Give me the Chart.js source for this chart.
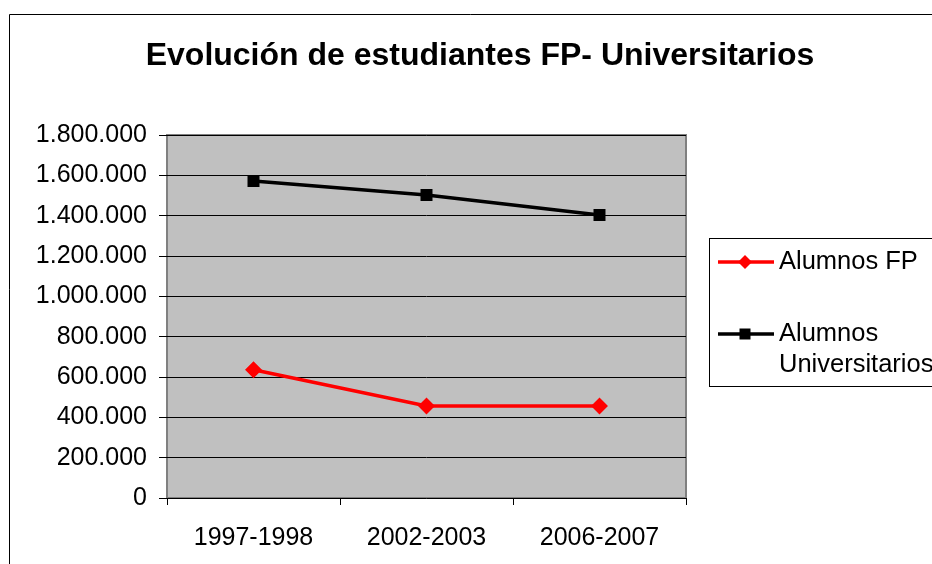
<!DOCTYPE html>
<html>
<head>
<meta charset="utf-8">
<script src="https://cdn.jsdelivr.net/npm/chart.js@4"></script>
<style>
  html, body { margin: 0; padding: 0; background: #fff; }
  #wrap { width: 932px; height: 564px; position: relative; }
</style>
</head>
<body>
<div id="wrap"><canvas id="myChart" width="932" height="564"></canvas></div>
<script>
const categories = ['1997-1998', '2002-2003', '2006-2007']
const alumnosFP = [636000, 456000, 456000]
const alumnosUni = [1572000, 1502000, 1403000]
const seriesNames = ['Alumnos FP', ['Alumnos', 'Universitarios']]
const titleText = 'Evolución de estudiantes FP- Universitarios'

const FONT = '"Liberation Sans", Arial, sans-serif'

function fmt(v) {
    return String(v).replace(/\B(?=(\d{3})+(?!\d))/g, '.')
}

// gray plot background, outer frame, title and the boxed legend
const frame = {
    id: 'frame',
    beforeDraw(chart) {
        const c = chart.ctx
        const a = chart.chartArea
        c.save()
        c.fillStyle = '#fff'
        c.fillRect(0, 0, chart.width, chart.height)
        c.strokeStyle = '#000'
        c.lineWidth = 1
        c.beginPath()
        c.moveTo(9.5, chart.height)
        c.lineTo(9.5, 14.5)
        c.lineTo(chart.width, 14.5)
        c.stroke()
        c.fillStyle = '#C0C0C0'
        c.fillRect(a.left, a.top, a.right - a.left, a.bottom - a.top)
        c.strokeStyle = '#808080'
        c.lineWidth = 2
        c.strokeRect(a.left, a.top, a.right - a.left, a.bottom - a.top)
        c.restore()
    },
    afterDraw(chart) {
        const c = chart.ctx
        c.save()
        c.fillStyle = '#000'
        c.font = 'bold 32px ' + FONT
        c.textAlign = 'center'
        c.textBaseline = 'middle'
        c.fillText(titleText, 480, 56)

        // legend
        c.strokeStyle = '#000'
        c.lineWidth = 1
        c.strokeRect(709.5, 238.5, 240, 148)
        c.font = '25.5px ' + FONT
        c.textAlign = 'left'
        const items = [
            { y: 262, color: '#FF0000', shape: 'diamond', lines: [seriesNames[0]] },
            { y: 334, color: '#000', shape: 'square', lines: seriesNames[1] }
        ]
        items.forEach(it => {
            c.strokeStyle = it.color
            c.fillStyle = it.color
            c.lineWidth = 3.5
            c.beginPath()
            c.moveTo(718, it.y)
            c.lineTo(774, it.y)
            c.stroke()
            c.beginPath()
            if (it.shape === 'diamond') {
                c.moveTo(745, it.y - 7); c.lineTo(752, it.y); c.lineTo(745, it.y + 7); c.lineTo(738, it.y)
            } else {
                c.rect(739.5, it.y - 5.5, 11, 11)
            }
            c.fill()
            c.fillStyle = '#000'
            it.lines.forEach((t, i) => c.fillText(t, 779, it.y + i * 31))
        })
        c.restore()
    }
}

new Chart(document.getElementById('myChart'), {
    type: 'line',
    data: {
        labels: categories,
        datasets: [{
            label: 'Alumnos FP',
            data: alumnosFP,
            borderColor: '#FF0000',
            backgroundColor: '#FF0000',
            borderWidth: 3.5,
            pointStyle: 'rectRot',
            pointRadius: 6,
            tension: 0
        }, {
            label: 'Alumnos Universitarios',
            data: alumnosUni,
            borderColor: '#000',
            backgroundColor: '#000',
            borderWidth: 3.5,
            pointStyle: 'rect',
            pointRadius: 6,
            tension: 0
        }]
    },
    plugins: [frame],
    options: {
        responsive: false,
        animation: false,
        layout: { padding: { top: 135, right: 246, bottom: 0, left: 0 } },
        plugins: {
            legend: { display: false },
            title: { display: false },
            tooltip: { enabled: false }
        },
        scales: {
            x: {
                offset: true,
                afterFit: s => { s.height = 66 },
                grid: { offset: true, drawOnChartArea: false, color: '#000', tickLength: 7 },
                border: { display: false },
                ticks: { color: '#000', font: { family: FONT, size: 25 }, padding: 18, maxRotation: 0 }
            },
            y: {
                min: 0,
                max: 1800000,
                afterFit: s => { s.width = 167 },
                grid: { color: '#000', tickLength: 8 },
                border: { display: false },
                ticks: {
                    stepSize: 200000,
                    color: '#000',
                    padding: 12,
                    font: { family: FONT, size: 25 },
                    callback: v => fmt(v)
                }
            }
        }
    }
})
</script>
</body>
</html>
